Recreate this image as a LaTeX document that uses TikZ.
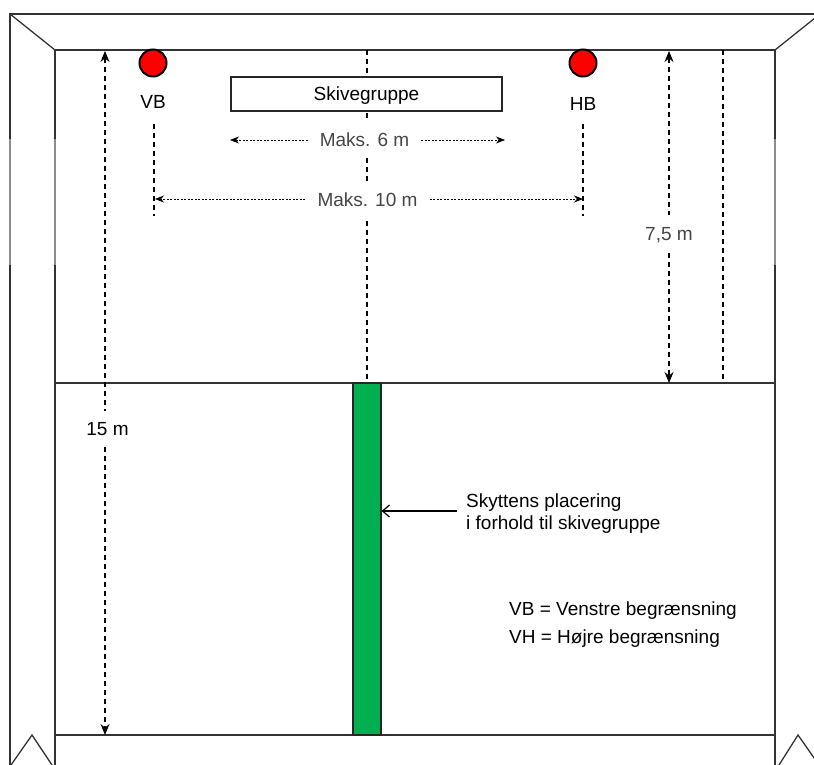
\documentclass[tikz,border=0pt]{standalone}
\usepackage{fontspec}
\setmainfont{Liberation Sans}
\usepackage{tikz}
\usetikzlibrary{arrows.meta}
\usetikzlibrary{positioning}
\definecolor{shootgreen}{RGB}{0,176,80}
\definecolor{ghosttext}{RGB}{70,70,70}
\tikzstyle{wall} = [line width=1.3pt, draw=black!80]
\tikzstyle{faded} = [line width=1.8pt, draw=black!45]
\tikzstyle{arrow} = [line width=1.1pt, dash pattern=on 5pt off 4pt, >={Stealth[length=11pt,width=9pt]}]
\tikzstyle{guide} = [line width=1.1pt, dash pattern=on 5pt off 4pt]
\tikzstyle{span} = [line width=0.7pt, dash pattern=on 2pt off 1.5pt, ->, >={Stealth[length=9pt,width=7pt]}]
\tikzstyle{lbl} = [font=\fontsize{19}{22}\selectfont, inner sep=0pt]
\tikzstyle{line1} = [lbl, text height=16pt, text depth=2.4pt]
\tikzstyle{dimlbl} = [line1, fill=white, text=ghosttext, inner xsep=12pt, minimum height=37pt]
\tikzstyle{limit} = [circle, draw=black, line width=2pt, fill=red, minimum size=27pt, inner sep=0pt]

\begin{document}
\begin{tikzpicture}[x=1pt, y=-1pt]
\clip (0,0) rectangle (814,765);

% room
\draw[wall] (10,765) -- (10,14) -- (830,14);
\draw[wall] (55,765) -- (55,50) -- (775,50) -- (775,765);
\draw[wall] (10,14) -- (55,50);
\draw[wall] (775,50) -- (820,14);
\draw[wall] (55,383) -- (775,383);
\draw[wall] (55,735) -- (775,735);
\draw[wall] (11,765) -- (32,735) -- (52,765);
\draw[wall] (779,765) -- (798,735) -- (819,765);
\draw[faded] (10,139) -- (10,265);
\draw[faded] (55,139) -- (55,265);
\draw[faded] (775,139) -- (775,265);

% free ends
\coordinate (midtop) at (367,50);
\coordinate (midbot) at (367,383);
\coordinate (longtop) at (105,51);
\coordinate (longbot) at (105,735);
\coordinate (halftop) at (669,51);
\coordinate (halfbot) at (669,383);
\coordinate (sidetop) at (723,50);
\coordinate (sidebot) at (723,383);
\coordinate (vbtop) at (154,124);
\coordinate (vbbot) at (154,216);
\coordinate (hbtop) at (583,124);
\coordinate (hbbot) at (583,216);
\coordinate (sixleft) at (230,140);
\coordinate (sixright) at (505,140);
\coordinate (tenleft) at (155,199);
\coordinate (tenright) at (583,199);

\draw[guide] (midtop) -- (midbot);
\draw[guide] (sidetop) -- (sidebot);
\draw[guide] (vbtop) -- (vbbot);
\draw[guide] (hbtop) -- (hbbot);

\node (vb) [limit] at (153,63) {};
\node (hb) [limit] at (583,63) {};
\node (vbtxt) [lbl] at (153,102) {VB};
\node (hbtxt) [lbl] at (583,104) {HB};
\node (group) [line1, draw=black!85, line width=1.2pt, fill=white, minimum width=271pt, minimum height=34pt] at (366.5,94) {Skivegruppe};

\node (six) [dimlbl] at (364.5,140) {Maks. 6 m};
\node (ten) [dimlbl] at (367.5,200) {Maks. 10 m};
\draw[span] (six.west |- sixleft) -- (sixleft);
\draw[span] (six.east |- sixright) -- (sixright);
\draw[span] (ten.west |- tenleft) -- (tenleft);
\draw[span] (ten.east |- tenright) -- (tenright);

\node (long) [lbl, fill=white, inner ysep=11pt] at (107.5,429) {15 m};
\node (half) [dimlbl] at (669,234) {7,5 m};
\draw[arrow, <-] (longtop) -- (longtop |- long.north);
\draw[arrow, ->] (longtop |- long.south) -- (longbot);
\draw[arrow, <-] (halftop) -- (half.north);
\draw[arrow, ->] (half.south) -- (halfbot);

\node (shooter) [draw=black!85, line width=1.2pt, fill=shootgreen, minimum width=28pt, minimum height=352pt, inner sep=0pt] at (367,559) {};
\node (place) [lbl, anchor=west, align=left, inner xsep=9pt] at (457,514) {Skyttens placering\\i forhold til skivegruppe};
\draw[line width=1.2pt, -{Straight Barb[length=7pt,width=12pt]}] (place.west |- 457,511) -- (shooter.east |- 457,511);

\node (legvb) [line1, anchor=west] at (509,609) {VB = Venstre begrænsning};
\node (leghb) [line1, anchor=west] at (509,637) {VH = Højre begrænsning};
\end{tikzpicture}
\end{document}
